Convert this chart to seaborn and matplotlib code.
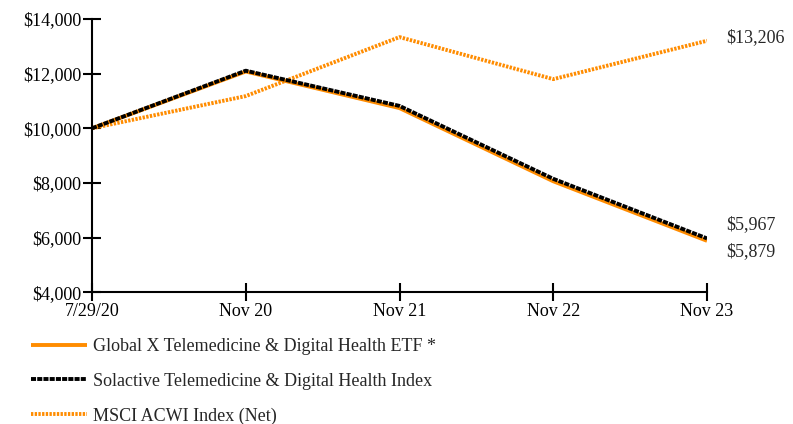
import matplotlib
matplotlib.use("Agg")
import matplotlib.pyplot as plt
import matplotlib.ticker as mticker
import pandas as pd
import seaborn as sns

periods = ["7/29/20", "Nov 20", "Nov 21", "Nov 22", "Nov 23"]
etf_values = [10000, 12080, 10740, 8060, 5879]
index_values = [10000, 12110, 10820, 8150, 5967]
msci_values = [10000, 11180, 13340, 11800, 13206]

etf_name = "Global X Telemedicine & Digital Health ETF *"
index_name = "Solactive Telemedicine & Digital Health Index"
msci_name = "MSCI ACWI Index (Net)"

orange = "#FF8C00"
lw = 2.8
index_dash = (1.3, 0.3)
msci_dash = (0.6, 0.35)

rows = []
for name, vals in [(etf_name, etf_values), (index_name, index_values), (msci_name, msci_values)]:
    for i, v in enumerate(vals):
        rows.append({"pos": i, "period": periods[i], "value": v, "series": name})
df = pd.DataFrame(rows)

sns.set_style("white")
plt.rcParams["font.family"] = ["Liberation Serif", "DejaVu Serif"]

fig = plt.figure(figsize=(7.93, 4.24), dpi=100)
ax = fig.add_axes([0.116, 0.311, 0.7756, 0.644])

sns.lineplot(data=df, x="pos", y="value", hue="series", style="series",
             hue_order=[msci_name, etf_name, index_name],
             palette={etf_name: orange, index_name: "black", msci_name: orange},
             dashes={etf_name: "", index_name: index_dash, msci_name: msci_dash},
             linewidth=lw, ax=ax, legend=False)
for line in ax.lines:
    line.set_solid_capstyle("butt")
    line.set_dash_capstyle("butt")

ax.set_xlim(0, len(periods) - 1)
ax.set_ylim(4000, 14000)
ax.set_xticks(range(len(periods)))
ax.set_xticklabels(periods)
ax.set_yticks(range(4000, 14001, 2000))
ax.yaxis.set_major_formatter(mticker.FuncFormatter(lambda v, p: f"${v:,.0f}"))
ax.set_xlabel("")
ax.set_ylabel("")
for s in ["top", "right"]:
    ax.spines[s].set_visible(False)
for s in ["left", "bottom"]:
    ax.spines[s].set_linewidth(1.5)
    ax.spines[s].set_color("black")
ax.tick_params(axis="both", which="major", bottom=True, left=True, direction="inout",
               length=13, width=1.5, colors="black", labelsize=13)
ax.tick_params(axis="x", pad=1)
ax.tick_params(axis="y", pad=1)

last = len(periods) - 1
ax.annotate(f"${msci_values[-1]:,}", (last, msci_values[-1]), xytext=(14, 2),
            textcoords="offset points", va="center", ha="left", fontsize=13, annotation_clip=False)
ax.annotate(f"${index_values[-1]:,}", (last, index_values[-1]), xytext=(14, 10),
            textcoords="offset points", va="center", ha="left", fontsize=13, annotation_clip=False)
ax.annotate(f"${etf_values[-1]:,}", (last, etf_values[-1]), xytext=(14, -8),
            textcoords="offset points", va="center", ha="left", fontsize=13, annotation_clip=False)

handles = [
    plt.Line2D([], [], color=orange, lw=lw, solid_capstyle="butt"),
    plt.Line2D([], [], color="black", lw=lw, dashes=index_dash, dash_capstyle="butt"),
    plt.Line2D([], [], color=orange, lw=lw, dashes=msci_dash, dash_capstyle="butt"),
]
fig.legend(handles, [etf_name, index_name, msci_name], loc="upper left",
           bbox_to_anchor=(0.03, 0.22), frameon=False, handlelength=3.1,
           handletextpad=0.35, labelspacing=0.98, fontsize=13, borderaxespad=0)

fig.savefig("out.png", dpi=100)
